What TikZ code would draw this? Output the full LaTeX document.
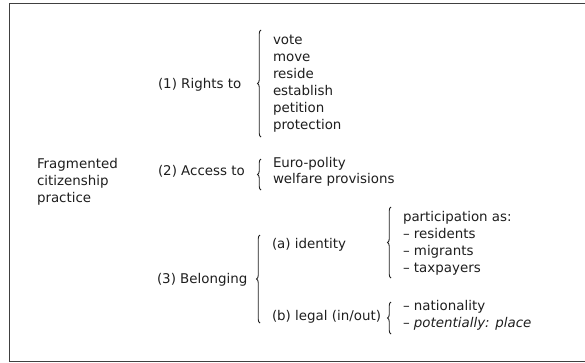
\documentclass[tikz,border=0pt]{standalone}
\usepackage{fontspec}
\setmainfont{DejaVu Sans}
\usetikzlibrary{decorations.pathreplacing}
\definecolor{ink}{RGB}{30,30,30}
\tikzset{
  lbl/.style={anchor=base west, inner sep=0pt, outer sep=0pt, text=ink,
    font=\fontsize{13.4}{17}\selectfont},
  brc/.style={draw=ink, line width=0.9pt, decorate,
    decoration={brace, amplitude=3.5pt, aspect=0.5}},
  frame/.style={draw=ink!85, line width=1pt}
}
\begin{document}
\begin{tikzpicture}[x=1pt, y=-1pt]
\useasboundingbox (0,0) rectangle (585,362);
\draw[frame] (586,3) -- (9.5,3) -- (9.5,361) -- (586,361);

% left label
\node[lbl] (f1) at (37,168) {Fragmented};
\node[lbl] (f2) at (37,185) {citizenship};
\node[lbl] (f3) at (37,202) {practice};

% (1) Rights to
\node[lbl] (r) at (158,88) {(1) Rights to};
\coordinate (b1b) at (261,137);
\coordinate (b1t) at (261,30);
\draw[brc] (b1b) -- (b1t);
\node[lbl] (r1) at (273,44) {vote};
\node[lbl] (r2) at (273,61) {move};
\node[lbl] (r3) at (273,78) {reside};
\node[lbl] (r4) at (273,95) {establish};
\node[lbl] (r5) at (273,112) {petition};
\node[lbl] (r6) at (273,129) {protection};

% (2) Access to
\node[lbl] (a) at (158,175) {(2) Access to};
\coordinate (b2b) at (261,190);
\coordinate (b2t) at (261,159);
\draw[brc] (b2b) -- (b2t);
\node[lbl] (a1) at (273,167) {Euro-polity};
\node[lbl] (a2) at (273,183) {welfare provisions};

% (3) Belonging
\node[lbl] (bl) at (157,283) {(3) Belonging};
\coordinate (b3b) at (260,323);
\coordinate (b3t) at (260,235);
\draw[brc] (b3b) -- (b3t);
\node[lbl] (id) at (272,248) {(a) identity};
\node[lbl] (lg) at (272,320) {(b) legal (in/out)};

% identity brace
\coordinate (bab) at (391,278);
\coordinate (bat) at (391,207);
\draw[brc] (bab) -- (bat);
\node[lbl] (p0) at (403,221) {participation as:};
\node[lbl] (p1) at (403,238) {– residents};
\node[lbl] (p2) at (403,255) {– migrants};
\node[lbl] (p3) at (403,272) {– taxpayers};

% legal brace
\coordinate (bbb) at (391,334);
\coordinate (bbt) at (391,302);
\draw[brc] (bbb) -- (bbt);
\node[lbl] (n1) at (403,310) {– nationality};
\node[lbl] (n2) at (403,327) {– \textit{potentially: place}};
\end{tikzpicture}
\end{document}
